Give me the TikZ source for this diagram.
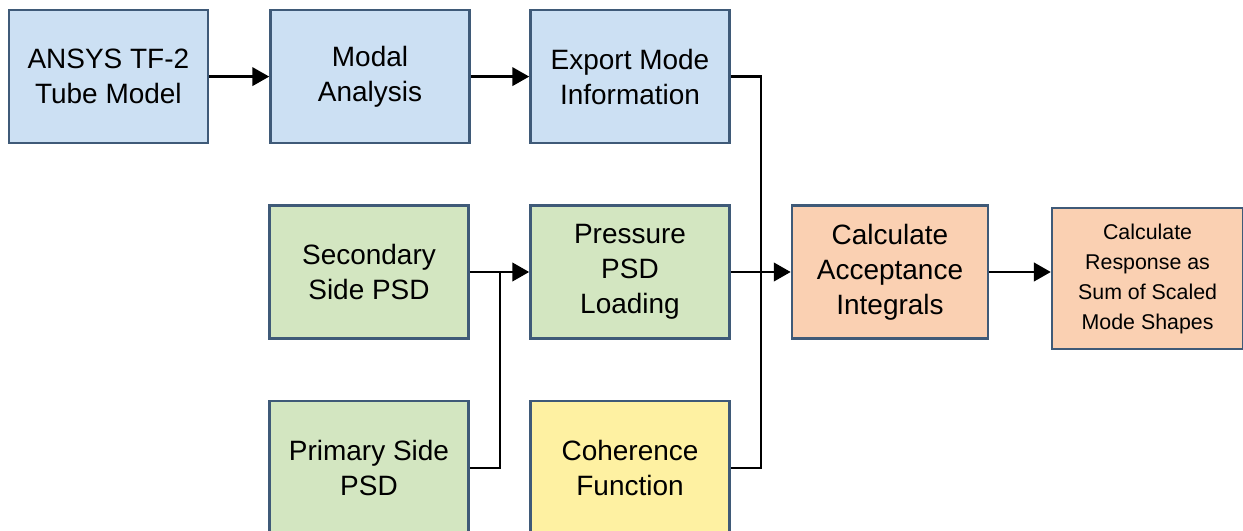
\documentclass[tikz,border=0pt]{standalone}
\usepackage{fontspec}
\setmainfont{Liberation Sans}
\usetikzlibrary{arrows.meta}
\definecolor{edgecol}{HTML}{3F5A78}
\definecolor{bluefill}{HTML}{CCE0F3}
\definecolor{greenfill}{HTML}{D3E6C1}
\definecolor{orangefill}{HTML}{FAD0B2}
\definecolor{yellowfill}{HTML}{FEF1A2}
\begin{document}
\begin{tikzpicture}[
  blk/.style={draw=edgecol, line width=1.8pt, align=center, minimum width=4.975cm, minimum height=3.325cm, font=\fontsize{19.9}{24.9}\selectfont, inner sep=2pt},
  link/.style={line width=2.1pt, black},
  flow/.style={link, -{Triangle[length=12pt, width=13pt]}}
]
\useasboundingbox (0,0) rectangle (31.075,13.275);

\node[blk, fill=bluefill] (ansys) at (2.71, 11.36) {ANSYS TF-2\\Tube Model};
\node[blk, fill=bluefill] (modal) at (9.25, 11.36) {Modal\\Analysis};
\node[blk, fill=bluefill] (export) at (15.75, 11.36) {Export Mode\\Information};

\node[blk, fill=greenfill] (secondary) at (9.225, 6.475) {Secondary\\Side PSD};
\node[blk, fill=greenfill] (pressure) at (15.75, 6.475) {Pressure\\PSD\\Loading};
\node[blk, fill=orangefill, minimum width=4.9cm] (accept) at (22.25, 6.475) {Calculate\\Acceptance\\Integrals};
\node[blk, fill=orangefill, minimum width=4.775cm, minimum height=3.525cm, font=\fontsize{15.2}{21.3}\selectfont] (response) at (28.69, 6.31) {Calculate\\Response as\\Sum of Scaled\\Mode Shapes};

\node[blk, fill=greenfill, minimum height=3.35cm] (primary) at (9.225, 1.575) {Primary Side\\PSD};
\node[blk, fill=yellowfill, minimum height=3.35cm] (coherence) at (15.75, 1.575) {Coherence\\Function};

\coordinate (jleft) at (12.5, 6.475);
\coordinate (jright) at (19.025, 6.475);

\draw[flow] (ansys) -- (modal);
\draw[flow] (modal) -- (export);
\draw[link] (export.east) -| (jright) |- (coherence.east);
\draw[link] (primary.east) -| (jleft);
\draw[flow] (secondary) -- (pressure);
\draw[flow] (pressure) -- (accept);
\draw[flow] (accept.east) -- (accept.east -| response.west);
\end{tikzpicture}
\end{document}
